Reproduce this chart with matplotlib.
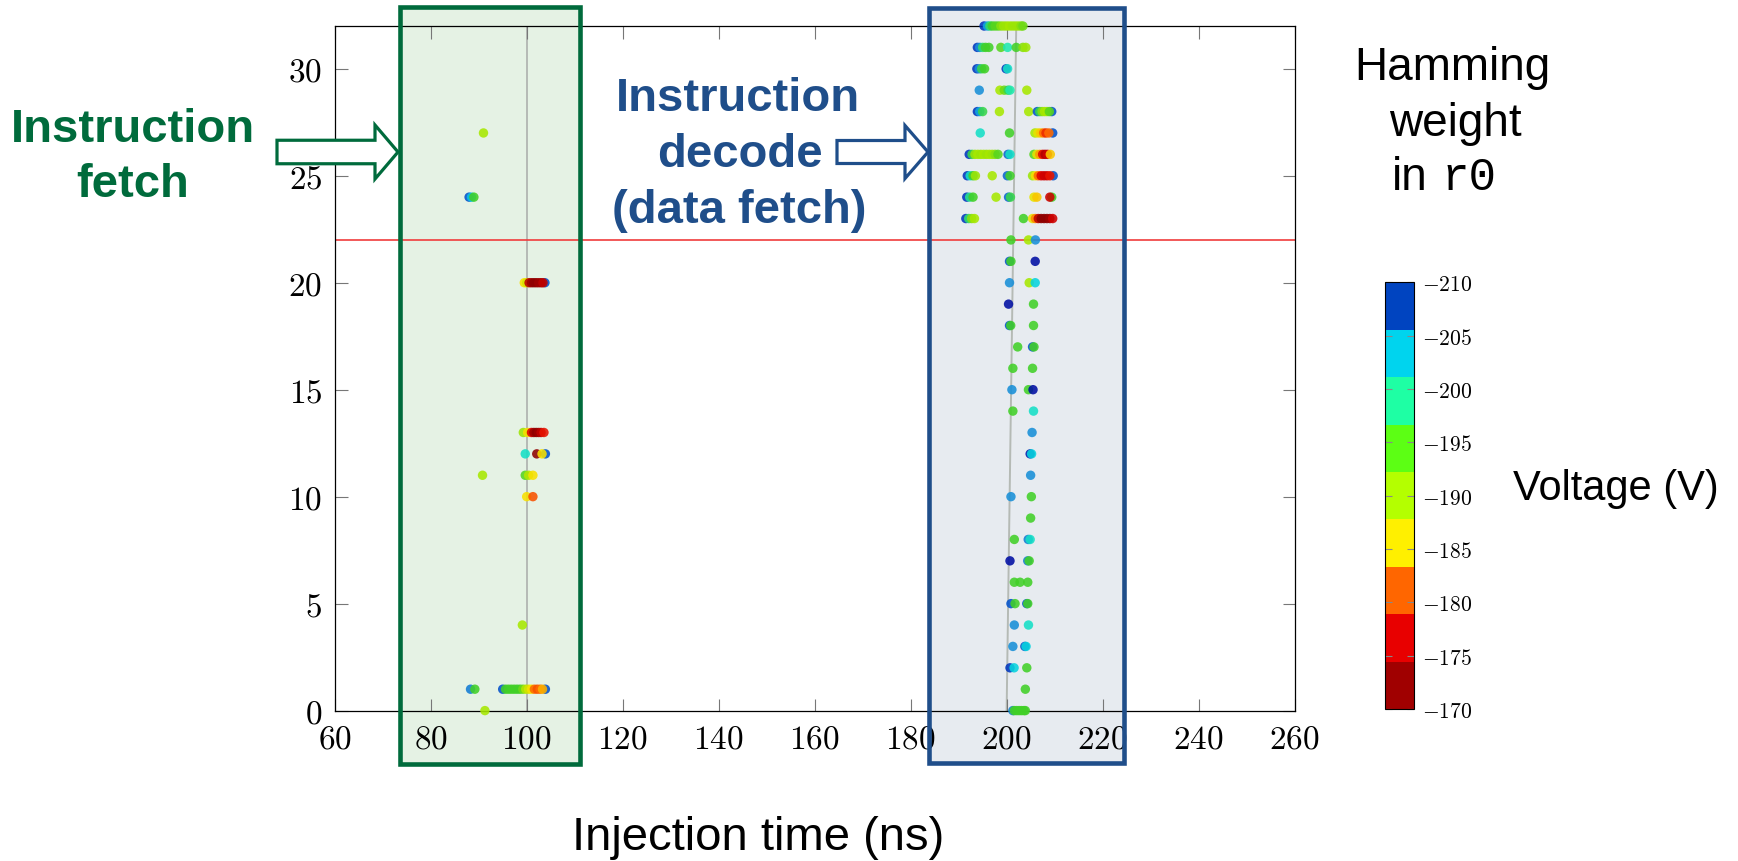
import matplotlib
matplotlib.use("Agg")
import matplotlib.pyplot as plt
import numpy as np
from matplotlib.colors import ListedColormap, LinearSegmentedColormap, Normalize
from matplotlib.cm import ScalarMappable
from matplotlib.patches import Rectangle, Polygon
from matplotlib.ticker import FuncFormatter

# (injection time ns, hamming weight of r0, voltage V)
fetch_pts = [
    (91.0, 27, -190.5),
    (88.0, 24, -207), (88.5, 24, -202), (89.0, 24, -195),
    (103.8, 20, -207), (99.5, 20, -186), (100.0, 20, -188), (100.5, 20, -174), (101.0, 20, -172),
    (101.5, 20, -171), (102.0, 20, -171), (102.5, 20, -172), (103.0, 20, -172), (103.4, 20, -174),
    (99.3, 13, -191), (100.2, 13, -186), (101.0, 13, -176), (101.5, 13, -172), (102.0, 13, -171),
    (102.5, 13, -172), (103.0, 13, -174), (103.6, 13, -177),
    (99.7, 12, -200), (103.9, 12, -207), (102.1, 12, -171), (103.2, 12, -186),
    (90.8, 11, -190.5), (99.7, 11, -194), (100.4, 11, -190), (101.3, 11, -186),
    (100.0, 10, -186), (101.3, 10, -180),
    (99.1, 4, -190.5),
    (88.3, 1, -205), (89.2, 1, -195), (95.0, 1, -207), (103.9, 1, -207), (95.6, 1, -195),
    (96.2, 1, -195), (96.8, 1, -195), (97.4, 1, -195), (98.0, 1, -195), (98.6, 1, -195),
    (99.2, 1, -193), (99.8, 1, -190), (100.4, 1, -188), (101.0, 1, -186), (101.6, 1, -181),
    (102.2, 1, -180), (102.8, 1, -181), (103.3, 1, -184),
    (91.3, 0, -190.5),
]

decode_pts = [
    (195.3, 32, -208), (196.0, 32, -203), (196.5, 32, -197), (197.0, 32, -195), (197.6, 32, -194),
    (198.2, 32, -194), (198.8, 32, -192), (199.4, 32, -191), (200.0, 32, -191), (200.6, 32, -190.5),
    (201.2, 32, -191), (201.8, 32, -191), (202.4, 32, -191), (203.0, 32, -192), (203.4, 32, -193),
    (193.9, 31, -208), (194.4, 31, -204), (195.0, 31, -197), (195.6, 31, -195), (196.3, 31, -195),
    (198.8, 31, -194), (200.2, 31, -199), (202.0, 31, -195), (203.4, 31, -192), (204.0, 31, -191),
    (193.8, 30, -208), (194.3, 30, -204), (194.8, 30, -196), (195.4, 30, -195), (199.9, 30, -208),
    (200.2, 30, -200),
    (194.3, 29, -204), (198.6, 29, -190.5), (199.5, 29, -193), (200.3, 29, -196), (200.7, 29, -199),
    (204.2, 29, -190.5),
    (193.9, 28, -208), (194.4, 28, -203), (195.0, 28, -196), (198.5, 28, -190.5), (204.6, 28, -190.5),
    (209.4, 28, -207), (206.4, 28, -207), (206.9, 28, -196), (207.4, 28, -192), (207.9, 28, -190.5),
    (208.4, 28, -190.5), (208.9, 28, -194),
    (194.5, 27, -200), (200.6, 27, -195), (209.6, 27, -207), (205.9, 27, -190.5), (206.5, 27, -187),
    (207.1, 27, -185), (207.7, 27, -181), (208.2, 27, -178), (208.8, 27, -181),
    (192.2, 26, -208), (192.8, 26, -196), (193.4, 26, -191), (194.0, 26, -190.5), (194.6, 26, -191),
    (195.2, 26, -190.5), (195.8, 26, -191), (196.4, 26, -190.5), (197.0, 26, -191), (197.6, 26, -192),
    (198.2, 26, -194), (200.3, 26, -206), (200.7, 26, -200), (205.7, 26, -194), (206.3, 26, -187),
    (206.9, 26, -183), (207.5, 26, -176), (208.0, 26, -173), (208.5, 26, -175), (209.1, 26, -185),
    (191.8, 25, -208), (192.4, 25, -200), (193.0, 25, -195), (193.5, 25, -191), (197.0, 25, -190.5),
    (200.15, 25, -206), (200.7, 25, -195), (209.7, 25, -207), (205.4, 25, -191), (206.0, 25, -186),
    (206.6, 25, -181), (207.2, 25, -176), (207.8, 25, -175), (208.4, 25, -175), (209.0, 25, -177),
    (191.7, 24, -208), (192.3, 24, -198), (193.0, 24, -195), (197.8, 24, -190.5), (200.4, 24, -206),
    (200.8, 24, -196), (205.7, 24, -187), (206.3, 24, -185), (209.4, 24, -195), (209.0, 24, -175),
    (191.5, 23, -208), (192.1, 23, -197), (192.7, 23, -192), (193.3, 23, -190.5), (203.5, 23, -195),
    (205.4, 23, -187), (206.0, 23, -182), (206.6, 23, -174), (207.2, 23, -171), (207.8, 23, -171),
    (208.4, 23, -171), (209.0, 23, -172), (209.6, 23, -175),
    (200.9, 22, -195), (204.55, 22, -190.5), (206.0, 22, -204),
    (200.6, 21, -207), (200.9, 21, -195), (205.95, 21, -209.5),
    (200.6, 20, -204), (204.7, 20, -190.5), (205.95, 20, -201),
    (200.4, 19, -209.5), (205.6, 19, -195),
    (200.6, 18, -207), (200.85, 18, -195), (205.6, 18, -195),
    (202.3, 17, -195), (205.4, 17, -207), (205.7, 17, -195),
    (201.3, 16, -195), (205.4, 16, -195),
    (201.1, 15, -204), (204.55, 15, -195), (205.5, 15, -209.5),
    (201.3, 14, -195), (205.6, 14, -200),
    (205.3, 13, -204),
    (204.9, 12, -209), (205.2, 12, -201),
    (205.0, 11, -204),
    (200.9, 10, -204), (205.15, 10, -195),
    (205.0, 9, -195),
    (201.6, 8, -195), (204.5, 8, -205), (204.9, 8, -200),
    (200.7, 7, -209.5), (204.4, 7, -205), (204.7, 7, -195),
    (201.6, 6, -195), (202.8, 6, -195), (204.4, 6, -195),
    (200.9, 5, -207), (201.75, 5, -195), (204.2, 5, -207), (204.4, 5, -195),
    (201.6, 4, -204), (204.55, 4, -200),
    (201.3, 3, -204), (203.8, 3, -207), (204.05, 3, -201),
    (200.7, 2, -208), (201.55, 2, -201), (204.2, 2, -195),
    (203.9, 1, -195),
    (201.3, 0, -205), (201.6, 0, -195), (202.1, 0, -195), (202.6, 0, -195), (203.1, 0, -195),
    (203.6, 0, -195), (203.9, 0, -195),
]

# thin grey guide lines and the red threshold
fetch_guide_t = [100, 100]
decode_guide_t = [200.0, 202.0]
guide_hw = [0, 32]
threshold_hw = 22

x_ticks = [60, 80, 100, 120, 140, 160, 180, 200, 220, 240, 260]
y_ticks = [0, 5, 10, 15, 20, 25, 30]
cbar_ticks = [-210, -205, -200, -195, -190, -185, -180, -175, -170]
cbar_colors = ['#0044c0', '#00d4ee', '#1effa4', '#5cff14', '#b4ff00',
               '#fff000', '#ff6600', '#e80000', '#a00000']

W, H = 1738, 862
plt.rcParams['font.family'] = ['Liberation Sans', 'DejaVu Sans']
plt.rcParams['mathtext.fontset'] = 'cm'

GREEN = '#006b3c'
BLUE = '#1f4e8a'


def fx(px):
    return px / W


def fy(py):
    return 1 - py / H


fig = plt.figure(figsize=(W / 100, H / 100), dpi=100)
fig.patch.set_facecolor('white')

ax = fig.add_axes([fx(334.7), fy(711.6), (1294.6 - 334.7) / W, (711.6 - 27) / H])
ax.set_facecolor('none')

norm = Normalize(-210, -170)
pt_cmap = LinearSegmentedColormap.from_list('pts', [
    (0.0, '#00009a'), (0.0625, '#0048c8'), (0.15, '#1890d8'), (0.2125, '#00d0e8'),
    (0.275, '#20e8b0'), (0.375, '#40d028'), (0.4875, '#a8e800'), (0.6, '#f8e000'),
    (0.725, '#ff6a00'), (0.85, '#e00000'), (1.0, '#800000')])

for pts in (fetch_pts, decode_pts):
    t, hw, v = np.array(pts).T
    ax.scatter(t, hw, c=v, cmap=pt_cmap, norm=norm, s=46, alpha=0.88,
               linewidths=0, zorder=3, clip_on=False)

ax.plot(fetch_guide_t, guide_hw, color='#b5bab5', lw=1.4, zorder=1.5)
ax.plot(decode_guide_t, guide_hw, color='#b5bab5', lw=1.4, zorder=1.5)
ax.axhline(threshold_hw, color='#f03c3c', lw=1.2, zorder=1.6)

ax.set_xlim(60, 260)
ax.set_ylim(0, 32)
ax.set_xticks(x_ticks)
ax.set_yticks(y_ticks)
fmt = FuncFormatter(lambda v, p: '$%d$' % v)
ax.xaxis.set_major_formatter(fmt)
ax.yaxis.set_major_formatter(fmt)
ax.tick_params(direction='in', length=9, width=0.8, color='#777777',
               top=True, right=True, labelsize=24, pad=9)
for s in ax.spines.values():
    s.set_linewidth(0.9)

# shaded boxes around the two phases
boxes = [(399.5, 579.8, 8.3, 764.7, GREEN, '#e5f2e4'),
         (928.5, 1124.2, 9.2, 764.2, BLUE, '#e7ebf0')]
for x0, x1, y0, y1, ec, fc in boxes:
    fig.add_artist(Rectangle((fx(x0), fy(y1)), (x1 - x0) / W, (y1 - y0) / H,
                             transform=fig.transFigure, facecolor=fc,
                             edgecolor='none', zorder=-1))
    fig.add_artist(Rectangle((fx(x0), fy(y1)), (x1 - x0) / W, (y1 - y0) / H,
                             transform=fig.transFigure, fill=False,
                             edgecolor=ec, lw=3.3, zorder=4))


def block_arrow(x0, xh, x1, yc, sh, hh, color):
    pts = [(x0, yc - sh / 2), (xh, yc - sh / 2), (xh, yc - hh / 2), (x1, yc),
           (xh, yc + hh / 2), (xh, yc + sh / 2), (x0, yc + sh / 2)]
    pts = [(fx(a), fy(b)) for a, b in pts]
    fig.add_artist(Polygon(pts, closed=True, transform=fig.transFigure,
                           facecolor='white', edgecolor=color, lw=2.3,
                           joinstyle='miter', zorder=5))


block_arrow(277, 375, 398, 153, 23.5, 54, GREEN)
block_arrow(837, 905, 928, 153, 23, 53, BLUE)

for s, x, y in [('Instruction', 133, 142.5), ('fetch', 133, 197.5)]:
    fig.text(fx(x), fy(y), s, ha='center', va='baseline', fontsize=34,
             fontweight='bold', color=GREEN)
for s, x, y in [('Instruction', 738, 111.5), ('decode', 740, 167),
                ('(data fetch)', 739, 223)]:
    fig.text(fx(x), fy(y), s, ha='center', va='baseline', fontsize=34,
             fontweight='bold', color=BLUE)

fig.text(fx(1452), fy(80), 'Hamming', ha='center', va='baseline', fontsize=33)
fig.text(fx(1455), fy(136), 'weight', ha='center', va='baseline', fontsize=33)
fig.text(fx(1428), fy(190), 'in', ha='right', va='baseline', fontsize=33)
fig.text(fx(1442), fy(190), 'r0', ha='left', va='baseline', fontsize=33,
         family='Liberation Mono')

fig.text(fx(758), fy(850), 'Injection time (ns)', ha='center', va='baseline', fontsize=34)
fig.text(fx(1616), fy(500), 'Voltage (V)', ha='center', va='baseline', fontsize=30)

# colour bar, -210 at the top
cax = fig.add_axes([fx(1385), fy(710), (1414 - 1385) / W, (710 - 283.3) / H])
sm = ScalarMappable(norm=norm, cmap=ListedColormap(cbar_colors))
cb = fig.colorbar(sm, cax=cax, ticks=cbar_ticks)
cb.ax.invert_yaxis()
cb.ax.yaxis.set_major_formatter(FuncFormatter(lambda v, p: '$%d$' % v))
cb.ax.tick_params(direction='in', left=True, right=True, length=5, width=0.8,
                  color='#888888', labelsize=15.5, pad=6)
cb.outline.set_linewidth(0.8)

fig.savefig('out.png', dpi=100)
